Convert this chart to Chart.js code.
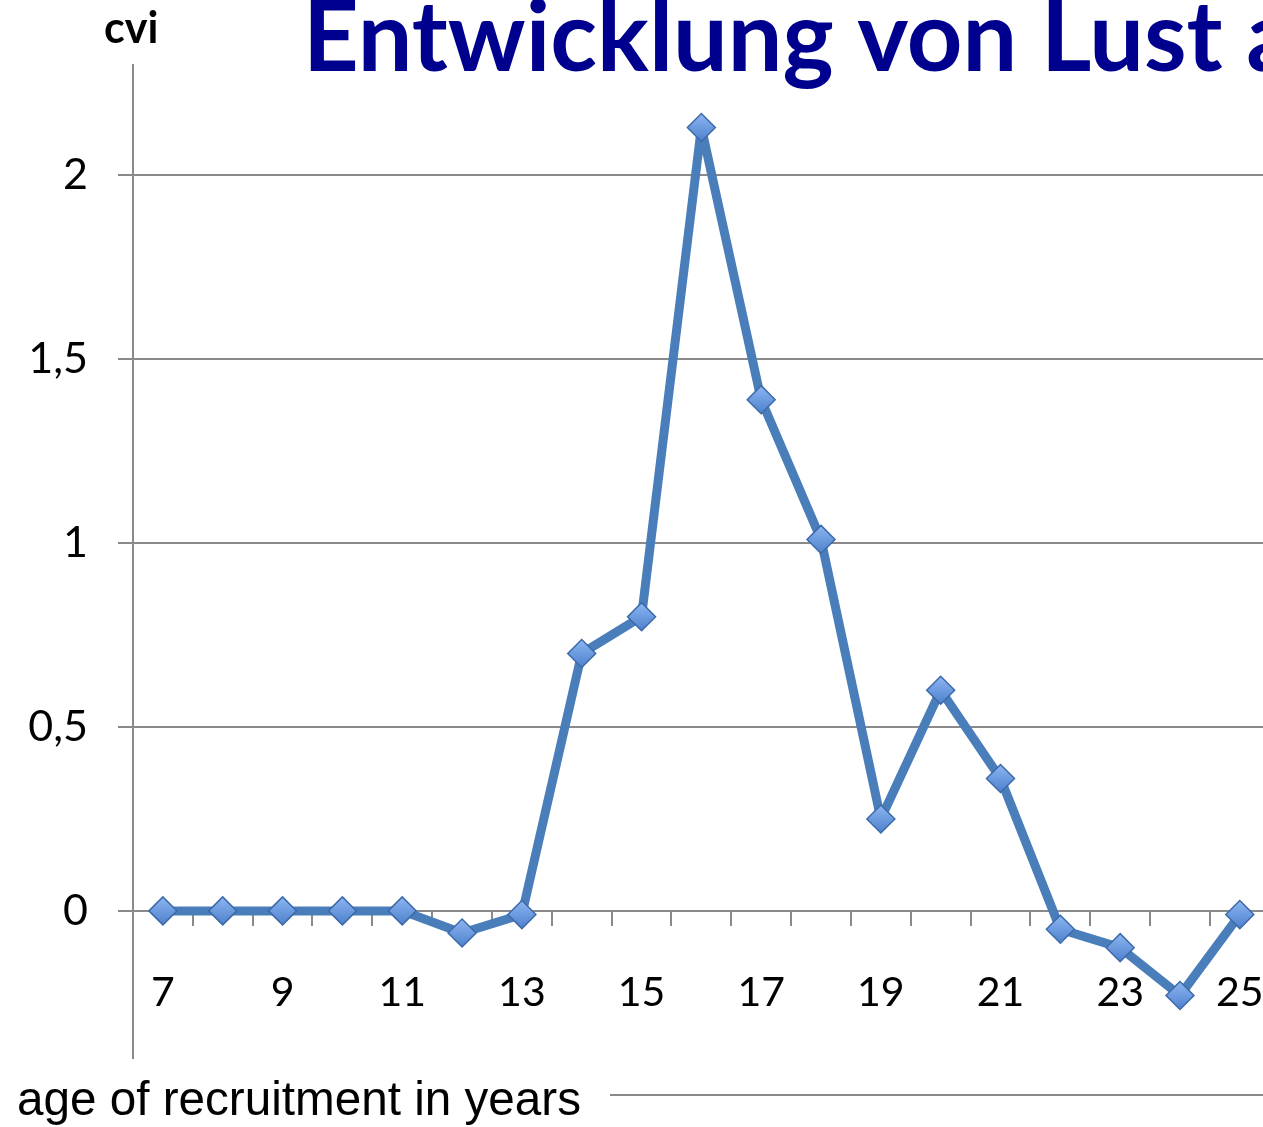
<!DOCTYPE html>
<html>
<head>
<meta charset="utf-8">
<script src="https://cdn.jsdelivr.net/npm/chart.js@4/dist/chart.umd.min.js"></script>
<style>
  html, body { margin: 0; padding: 0; background: #fff; overflow: hidden; }
  #wrap { position: relative; width: 1307px; height: 1127px; }
</style>
</head>
<body>
<div id="wrap"><canvas id="cviChart" width="1307" height="1127"></canvas></div>
<script>
// ===============================
// cvi by age of recruitment
// ===============================

const AGES = ["7", "8", "9", "10", "11", "12", "13", "14", "15", "16",
              "17", "18", "19", "20", "21", "22", "23", "24", "25"];
const CVI = [0, 0, 0, 0, 0, -0.06, -0.01, 0.70, 0.80, 2.13,
             1.39, 1.01, 0.25, 0.60, 0.36, -0.05, -0.10, -0.23, -0.01];
const Y_TICKS = [0, 0.5, 1, 1.5, 2];

const TITLE = "Entwicklung von Lust a";
const Y_TITLE = "cvi";
const X_TITLE = "age of recruitment in years";

const COLORS = {
  line: "#4a7ebb",
  markerTop: "#8db6f2",
  markerBottom: "#4d80cc",
  markerEdge: "#3d6aa8",
  grid: "#8a8a8a",
  title: "#00008f",
};

const FONT = "Lato, 'Open Sans', sans-serif";

// texts that sit outside the plot: title, axis names, bottom rule
const extraText = {
  id: "extraText",
  afterDraw(chart) {
    const c = chart.ctx;
    c.save();
    c.fillStyle = COLORS.title;
    c.font = "bold 97px " + FONT;
    c.textBaseline = "alphabetic";
    c.textAlign = "left";
    c.fillText(TITLE, 303, 71);

    c.fillStyle = "#000";
    c.font = "bold 43px " + FONT;
    c.fillText(Y_TITLE, 104, 43);

    // axis name is a bit condensed in the original
    c.font = "49px 'Liberation Sans', Arial, sans-serif";
    const w = c.measureText(X_TITLE).width;
    c.save();
    c.translate(17, 1115);
    c.scale(564 / w, 1);
    c.fillText(X_TITLE, 0, 0);
    c.restore();

    c.strokeStyle = COLORS.grid;
    c.lineWidth = 2;
    c.beginPath();
    c.moveTo(610, 1095);
    c.lineTo(1307, 1095);
    c.stroke();
    c.restore();
  }
};

// light-to-dark fill on each diamond
function markerFill(context) {
  const chart = context.chart;
  const y = chart.scales.y;
  if (!y || context.raw === undefined) return COLORS.markerBottom;
  const py = y.getPixelForValue(context.raw);
  if (!isFinite(py)) return COLORS.markerBottom;
  const g = chart.ctx.createLinearGradient(0, py - 14, 0, py + 14);
  g.addColorStop(0, COLORS.markerTop);
  g.addColorStop(1, COLORS.markerBottom);
  return g;
}

const ctx = document.getElementById("cviChart").getContext("2d");

new Chart(ctx, {
  type: "line",
  data: {
    labels: AGES,
    datasets: [{
      label: Y_TITLE,
      data: CVI,
      borderColor: COLORS.line,
      borderWidth: 9,
      borderJoinStyle: "round",
      tension: 0,
      fill: false,
      pointStyle: "rectRot",
      pointRadius: 14,
      pointBackgroundColor: markerFill,
      pointBorderColor: COLORS.markerEdge,
      pointBorderWidth: 1.5,
    }]
  },
  options: {
    responsive: false,
    animation: false,
    layout: { padding: { top: 65, bottom: 69, left: 0, right: 3 } },
    plugins: {
      legend: { display: false },
      tooltip: { enabled: false },
    },
    scales: {
      x: {
        type: "category",
        position: { y: 0 },
        offset: true,
        grid: {
          display: true,
          drawOnChartArea: false,
          drawTicks: true,
          tickLength: 14,
          color: COLORS.grid,
          lineWidth: 2,
          offset: true,
        },
        border: { display: true, color: COLORS.grid, width: 2 },
        ticks: {
          autoSkip: false,
          maxRotation: 0,
          padding: 43,
          color: "#000",
          font: { family: FONT, size: 41 },
          callback: (v, i) => (i % 2 === 0 ? AGES[i] : ""),
        },
      },
      y: {
        min: -0.4,
        max: 2.3,
        afterFit(scale) { scale.width = 133; },
        afterBuildTicks(scale) { scale.ticks = Y_TICKS.map(v => ({ value: v })); },
        grid: {
          color: COLORS.grid,
          lineWidth: 2,
          drawTicks: true,
          tickLength: 15,
        },
        border: { display: true, color: COLORS.grid, width: 2 },
        ticks: {
          padding: 30,
          color: "#000",
          font: { family: FONT, size: 43 },
          callback: v => String(v).replace(".", ","),
        },
      },
    },
  },
  plugins: [extraText],
});
</script>
</body>
</html>
